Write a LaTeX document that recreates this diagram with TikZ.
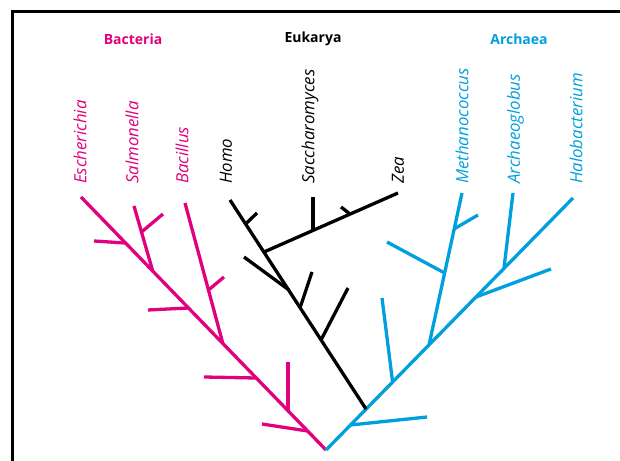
\documentclass[tikz,border=0pt]{standalone}
\usepackage{fontspec}
\setmainfont{Open Sans}
\definecolor{bact}{RGB}{225,0,125}
\definecolor{arch}{RGB}{0,160,222}
\begin{document}
\begin{tikzpicture}[x=1bp,y=-1bp,
  br/.style={line width=3.3bp,line cap=butt,line join=round},
  bline/.style={br,draw=bact},
  kline/.style={br,draw=black},
  aline/.style={br,draw=arch},
  genus/.style={rotate=90,anchor=west,inner sep=0pt,font=\fontsize{16.8bp}{19bp}\selectfont\itshape},
  domtitle/.style={inner sep=0pt,font=\fontsize{14bp}{16bp}\selectfont\bfseries}]
\useasboundingbox (0,0) rectangle (620,461);
\fill[white] (0,0) rectangle (620,461);
% frame
\draw[line width=2.6bp] (12.5,461) -- (12.5,11.5) -- (620,11.5);
% root
\coordinate (R) at (326,450);
% ---------- Bacteria ----------
\coordinate (E) at (81,197);
\coordinate (m1) at (307.5,431);
\coordinate (m2) at (288,411);
\coordinate (m3) at (256,378);
\coordinate (m4) at (223,344);
\coordinate (m5) at (188,308);
\coordinate (m6) at (153,272);
\coordinate (m7) at (125,243);
\coordinate (m1t) at (262,424);
\coordinate (m2t) at (288,362);
\coordinate (m3t) at (204,377);
\coordinate (B) at (185,203);
\coordinate (b1) at (208.5,290);
\coordinate (b1t) at (224,277);
\coordinate (m5t) at (148,310);
\coordinate (S) at (134,206);
\coordinate (s1) at (141.5,232);
\coordinate (s1t) at (163,214);
\coordinate (m7t) at (94,241);
\draw[bline] (R) -- (E);
\draw[bline] (m1) -- (m1t);
\draw[bline] (m2) -- (m2t);
\draw[bline] (m3) -- (m3t);
\draw[bline] (m4) -- (B);
\draw[bline] (b1) -- (b1t);
\draw[bline] (m5) -- (m5t);
\draw[bline] (m6) -- (S);
\draw[bline] (s1) -- (s1t);
\draw[bline] (m7) -- (m7t);
% ---------- Archaea ----------
\coordinate (H) at (573,198);
\coordinate (a1) at (350.5,425);
\coordinate (a1t) at (427,417);
\coordinate (a2) at (392.6,382);
\coordinate (a2t) at (382,298);
\coordinate (a3) at (429,345);
\coordinate (M) at (462,193);
\coordinate (c1) at (444.6,273);
\coordinate (c1t) at (387,242);
\coordinate (c2) at (454,229);
\coordinate (c2t) at (478,215);
\coordinate (a4) at (476,297);
\coordinate (a4t) at (551,269);
\coordinate (a5) at (504,268);
\coordinate (A) at (513,193);
\draw[aline] (R) -- (H);
\draw[aline] (a1) -- (a1t);
\draw[aline] (a2) -- (a2t);
\draw[aline] (a3) -- (M);
\draw[aline] (c1) -- (c1t);
\draw[aline] (c2) -- (c2t);
\draw[aline] (a4) -- (a4t);
\draw[aline] (a5) -- (A);
% ---------- Eukarya ----------
\coordinate (K0) at (366,409);
\coordinate (Ho) at (230,200);
\coordinate (k1) at (321,340);
\coordinate (k1t) at (348,288);
\coordinate (k2) at (300,308);
\coordinate (k2t) at (312,272);
\coordinate (k3) at (289,290);
\coordinate (k3t) at (244,257);
\coordinate (k4) at (264,252);
\coordinate (Z) at (398,193);
\coordinate (k5) at (245.6,224);
\coordinate (k5t) at (257,213);
\coordinate (z1) at (313,230.4);
\coordinate (Sa) at (313,197);
\coordinate (z2) at (350,214);
\coordinate (z2t) at (341,207);
\draw[kline] (K0) -- (Ho);
\draw[kline] (k1) -- (k1t);
\draw[kline] (k2) -- (k2t);
\draw[kline] (k3) -- (k3t);
\draw[kline] (k4) -- (Z);
\draw[kline] (k5) -- (k5t);
\draw[kline] (z1) -- (Sa);
\draw[kline] (z2) -- (z2t);
% ---------- labels ----------
\node[genus,text=bact] (lE) at (80,184) {Escherichia};
\node[genus,text=bact] (lS) at (132,184) {Salmonella};
\node[genus,text=bact] (lB) at (182,184) {Bacillus};
\node[genus] (lH) at (226,184) {Homo};
\node[genus] (lSa) at (310,184) {Saccharomyces};
\node[genus] (lZ) at (398,184) {Zea};
\node[genus,text=arch] (lM) at (462,184) {Methanococcus};
\node[genus,text=arch] (lA) at (515.5,184) {Archaeoglobus};
\node[genus,text=arch] (lHa) at (576,184) {Halobacterium};
\node[domtitle,text=bact] (tB) at (133,39) {Bacteria};
\node[domtitle] (tE) at (313,39) {Eukarya};
\node[domtitle,text=arch] (tA) at (519,39) {Archaea};
\end{tikzpicture}
\end{document}
